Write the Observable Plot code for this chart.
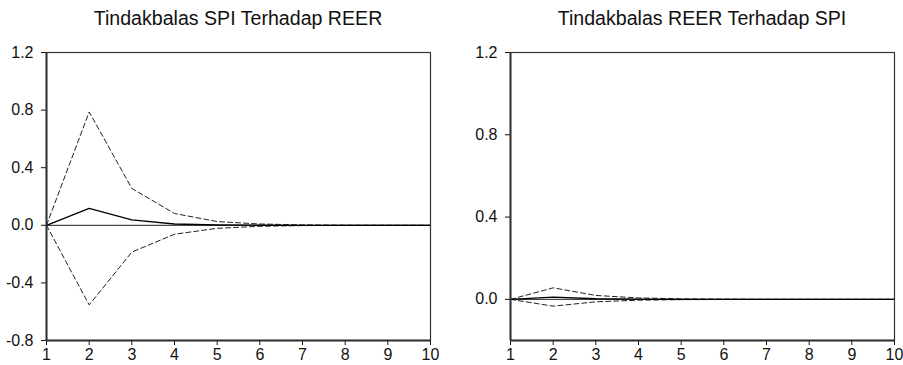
<!DOCTYPE html>
<html>
<head>
<meta charset="utf-8">
<script src="https://cdn.jsdelivr.net/npm/d3@7"></script>
<script src="https://cdn.jsdelivr.net/npm/@observablehq/plot@0.6"></script>
<style>
  html, body { margin: 0; padding: 0; background: #fff; }
  #wrap { position: relative; width: 903px; height: 365px; overflow: hidden; }
  .panel { position: absolute; top: 0; }
  .title { height: 38px; box-sizing: border-box; padding-top: 7px; font-family: "Liberation Sans", Arial, sans-serif; font-size: 19.6px; color: #111; white-space: nowrap; position: relative; }
  .title span { position: absolute; transform: translateX(-50%); }
  svg { display: block; }
</style>
</head>
<body>
<div id="wrap"></div>
<script>
const periods = [1, 2, 3, 4, 5, 6, 7, 8, 9, 10];

// Tindakbalas SPI Terhadap REER
const spiResp  = [0, 0.118, 0.038, 0.009, 0.002, 0.0005, 0.0001, 0, 0, 0];
const spiUpper = [0, 0.787, 0.256, 0.082, 0.026, 0.009, 0.003, 0.001, 0.0004, 0.0001];
const spiLower = [0, -0.553, -0.186, -0.062, -0.021, -0.007, -0.002, -0.001, -0.0003, -0.0001];

// Tindakbalas REER Terhadap SPI
const reerResp  = [0, 0.011, 0.003, 0.001, 0.0003, 0.0001, 0, 0, 0, 0];
const reerUpper = [0, 0.056, 0.019, 0.007, 0.0025, 0.001, 0.0003, 0.0001, 0, 0];
const reerLower = [0, -0.033, -0.012, -0.004, -0.0015, -0.0005, -0.0002, -0.0001, 0, 0];

const leftTitle = "Tindakbalas SPI Terhadap REER";
const rightTitle = "Tindakbalas REER Terhadap SPI";
const leftYTicks = [-0.8, -0.4, 0.0, 0.4, 0.8, 1.2];
const rightYTicks = [0.0, 0.4, 0.8, 1.2];

function panel({left, width, mLeft, mRight, title, resp, upper, lower, yDomain, yTicks}) {
  const toRows = arr => periods.map((p, i) => ({p, v: arr[i]}));
  const div = document.createElement("div");
  div.className = "panel";
  div.style.left = left + "px";
  div.style.width = width + "px";
  const t = document.createElement("div");
  t.className = "title";
  const s = document.createElement("span");
  s.textContent = title;
  s.style.left = (mLeft + (width - mLeft - mRight) / 2) + "px";
  t.appendChild(s);
  div.appendChild(t);
  const chart = Plot.plot({
    width, height: 327,
    marginLeft: mLeft, marginRight: mRight, marginTop: 14, marginBottom: 25,
    style: {fontFamily: "'Liberation Sans', Arial, sans-serif", fontSize: "16px", color: "#111", background: "#fff"},
    x: {domain: [1, 10], ticks: periods, tickFormat: d => String(d), tickSize: 5, tickPadding: 3, label: null},
    y: {domain: yDomain, ticks: yTicks, tickFormat: d => d.toFixed(1), tickSize: 5, tickPadding: 8, label: null},
    marks: [
      Plot.ruleY([0], {stroke: "#222", strokeWidth: 1}),
      Plot.line(toRows(upper), {x: "p", y: "v", stroke: "#222", strokeWidth: 1, strokeDasharray: "5,3"}),
      Plot.line(toRows(lower), {x: "p", y: "v", stroke: "#222", strokeWidth: 1, strokeDasharray: "5,3"}),
      Plot.line(toRows(resp), {x: "p", y: "v", stroke: "#000", strokeWidth: 1.3}),
      Plot.frame({stroke: "#333", strokeWidth: 1.2}),
      Plot.ruleX([periods[0]], {stroke: "#333", strokeWidth: 2}),
      Plot.ruleY([yDomain[0]], {stroke: "#333", strokeWidth: 2})
    ]
  });
  div.appendChild(chart);
  document.getElementById("wrap").appendChild(div);
}

panel({left: 0, width: 451, mLeft: 46, mRight: 21, title: leftTitle,
  resp: spiResp, upper: spiUpper, lower: spiLower, yDomain: [-0.8, 1.2], yTicks: leftYTicks});
panel({left: 451, width: 452, mLeft: 59, mRight: 9, title: rightTitle,
  resp: reerResp, upper: reerUpper, lower: reerLower, yDomain: [-0.2, 1.2], yTicks: rightYTicks});
</script>
</body>
</html>
